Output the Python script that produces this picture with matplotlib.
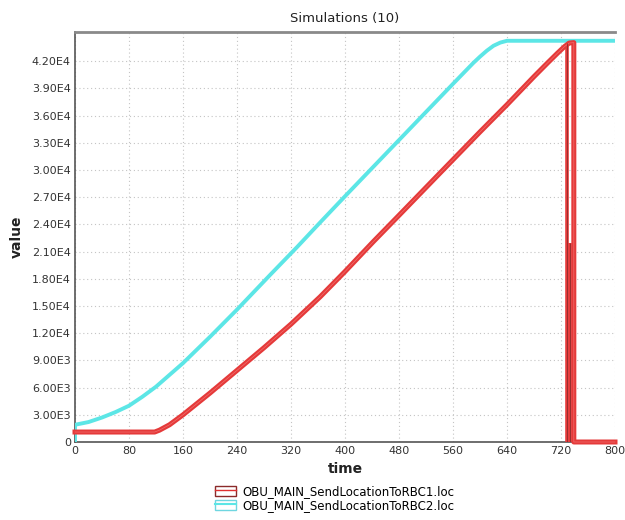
import matplotlib
matplotlib.use("Agg")
import matplotlib.pyplot as plt
from matplotlib.patches import Patch
from matplotlib.lines import Line2D
from matplotlib.legend_handler import HandlerTuple
from matplotlib.ticker import FuncFormatter

# data
cyan_t = [0, 0, 20, 40, 60, 80, 100, 120, 160, 200, 240, 290, 329, 363, 400, 440, 480, 520, 560, 590, 600, 610, 620, 630, 640, 800]
cyan_v = [0, 1900, 2200, 2700, 3300, 4000, 5000, 6100, 8700, 11600, 14600, 18500, 21500, 24200, 27100, 30200, 33300, 36400, 39500, 41800, 42500, 43150, 43700, 44050, 44250, 44250]

red_t = [0, 60, 118, 125, 140, 160, 200, 240, 280, 320, 363, 400, 442, 480, 536, 600, 640, 680, 700, 715, 725, 732, 739, 739, 800]
red_v = [1100, 1100, 1100, 1300, 1900, 3000, 5400, 7900, 10400, 13000, 16000, 18800, 22100, 25000, 29300, 34200, 37200, 40300, 41800, 42900, 43600, 44000, 44050, 0, 0]

# extra runs that drop to zero earlier
drop_t = [729, 733]
drop_top = [44000, 22000]

xticks = list(range(0, 801, 80))
yticks = list(range(0, 42001, 3000))


def sci(v, pos):
    if v == 0:
        return "0"
    m, e = f"{v:.2E}".split("E")
    return f"{m}E{int(e)}"


fig = plt.figure(figsize=(6.25, 5.2), dpi=100)
ax = fig.add_axes([0.12, 0.15, 0.864, 0.789])

ax.plot(cyan_t, cyan_v, color="#5ce6e6", lw=2.8, solid_joinstyle="round", zorder=3)
ax.plot(red_t, red_v, color="#e53a3a", lw=3.6, solid_joinstyle="round", zorder=4, clip_on=False)
ax.plot(red_t, red_v, color="#f07070", lw=0.5, zorder=5, clip_on=False)
ax.vlines(drop_t, 0, drop_top, color="#e53a3a", lw=2.6, zorder=4)
ax.vlines(drop_t, 0, drop_top, color="#7a2a2a", lw=0.5, zorder=5)

ax.set_xlim(0, 800)
ax.set_ylim(0, 45250)
ax.set_xticks(xticks)
ax.set_yticks(yticks)
ax.yaxis.set_major_formatter(FuncFormatter(sci))
ax.tick_params(length=0, labelsize=8, colors="#333333", pad=3)
ax.grid(True, color="#c4c4c4", lw=0.8, linestyle=(0, (1, 2.5)))

for s in ["left", "bottom"]:
    ax.spines[s].set_color("#555555")
    ax.spines[s].set_linewidth(1.2)
ax.spines["top"].set_color("#8a8a8a")
ax.spines["top"].set_linewidth(2)
ax.spines["right"].set_visible(False)

ax.set_title("Simulations (10)", fontsize=9.5, color="#222222", pad=7)
ax.set_xlabel("time", fontsize=10, fontweight="bold", color="#222222", labelpad=4)
ax.set_ylabel("value", fontsize=10, fontweight="bold", color="#222222", labelpad=6)

h1 = (Patch(facecolor="white", edgecolor="#8b2a2a", lw=1), Line2D([], [], color="#e03030", lw=1))
h2 = (Patch(facecolor="white", edgecolor="#6fd6e0", lw=1), Line2D([], [], color="#5ce6e6", lw=1.5))
fig.legend([h1, h2],
           ["OBU_MAIN_SendLocationToRBC1.loc", "OBU_MAIN_SendLocationToRBC2.loc"],
           handler_map={tuple: HandlerTuple(ndivide=1)},
           loc="lower center", bbox_to_anchor=(0.535, -0.005), frameon=False,
           fontsize=8.5, handlelength=1.8, handleheight=0.9, handletextpad=0.5,
           labelspacing=0.1)

plt.savefig("out.png", dpi=100)
